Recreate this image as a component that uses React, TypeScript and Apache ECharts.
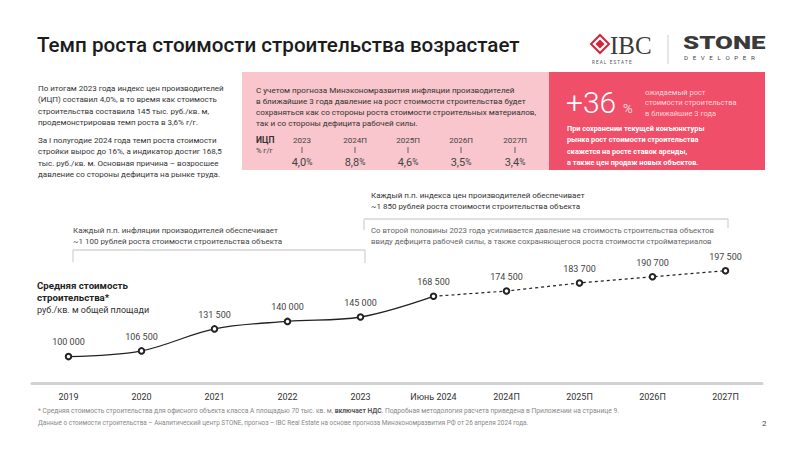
import React, { useEffect, useRef } from "react";
import * as echarts from "echarts";

const categories = ["2019", "2020", "2021", "2022", "2023", "Июнь 2024", "2024П", "2025П", "2026П", "2027П"];
const actualValues = [100000, 106500, 131500, 140000, 145000, 168500];
const forecastValues = [174500, 183700, 190700, 197500];
const ipcYears = ["2023", "2024П", "2025П", "2026П", "2027П"];
const ipcValues = ["4,0", "8,8", "4,6", "3,5", "3,4"];

const leftText1 = [
  "По итогам 2023 года индекс цен производителей",
  "(ИЦП) составил 4,0%, в то время как стоимость",
  "строительства составила 145 тыс. руб./кв. м,",
  "продемонстрировав темп роста в 3,6% г/г.",
];
const leftText2 = [
  "За I полугодие 2024 года темп роста стоимости",
  "стройки вырос до 16%, а индикатор достиг 168,5",
  "тыс. руб./кв. м. Основная причина – возросшее",
  "давление со стороны дефицита на рынке труда.",
];
const pinkText = [
  "С учетом прогноза Минэкономразвития инфляции производителей",
  "в ближайшие 3 года давление на рост стоимости строительства будет",
  "сохраняться как со стороны роста стоимости строительных материалов,",
  "так и со стороны дефицита рабочей силы.",
];
const redSmall = ["ожидаемый рост", "стоимости строительства", "в ближайшие 3 года"];
const redBold = [
  "При сохранении текущей конъюнктуры",
  "рынка рост стоимости строительства",
  "скажется на росте ставок аренды,",
  "а также цен продаж новых объектов.",
];

const FONT = "Roboto, 'Noto Sans', sans-serif";

function fmt(v: number) {
  return String(v).replace(/\B(?=(\d{3})+(?!\d))/g, " ");
}

function txt(x: number, y: number, text: string, size: number, extra: any = {}) {
  return {
    type: "text",
    x,
    y,
    silent: true,
    style: {
      text,
      fontSize: size,
      fontFamily: FONT,
      fontWeight: extra.weight || "normal",
      fill: extra.fill || "#333",
      align: extra.align || "left",
      verticalAlign: "middle",
      lineHeight: extra.lineHeight,
      rich: extra.rich,
    },
    scaleX: extra.scaleX,
    z: 10,
  };
}

function lines(x: number, y0: number, dy: number, arr: string[], size: number, extra: any = {}) {
  return arr.map((s, i) => txt(x, y0 + i * dy, s, size, extra));
}

function ln(x1: number, y1: number, x2: number, y2: number, color = "#d4d4d4", w = 1.3) {
  return {
    type: "line",
    silent: true,
    shape: { x1, y1, x2, y2 },
    style: { stroke: color, lineWidth: w },
    z: 5,
  };
}

export default function App() {
  const ref = useRef<HTMLDivElement>(null);
  useEffect(() => {
    if (!ref.current) return;
    const chart = echarts.init(ref.current, undefined, { renderer: "svg" });

    const forecastData: any[] = categories.map(() => null);
    const lastActual = actualValues[actualValues.length - 1];
    forecastData[actualValues.length - 1] = { value: lastActual, label: { show: false }, symbol: "none" };
    forecastValues.forEach((v, i) => {
      forecastData[actualValues.length + i] = v;
    });

    const ipcCols = [302, 355, 408, 461, 515];

    const graphic: any[] = [
      // Title
      txt(37, 45, "Темп роста стоимости строительства возрастает", 20.6, { weight: 500, fill: "#1c1c1c" }),
      // IBC logo
      {
        type: "polygon",
        silent: true,
        shape: { points: [[600, 35], [609, 44], [600, 53], [591, 44]] },
        style: { fill: "#fff", stroke: "#d3243a", lineWidth: 2 },
      },
      {
        type: "polygon",
        silent: true,
        shape: { points: [[600, 39.5], [604.5, 44], [600, 48.5], [595.5, 44]] },
        style: { fill: "#d3243a" },
      },
      {
        type: "text",
        x: 610,
        y: 45,
        silent: true,
        style: { text: "IBC", fontSize: 25, fontFamily: "'Liberation Serif', 'DejaVu Serif', serif", fill: "#3a3a3a", verticalAlign: "middle" },
      },
      txt(592, 62, "R E A L   E S T A T E", 4.6, { fill: "#555" }),
      ln(668, 35, 668, 64, "#cfcfcf", 1),
      {
        type: "text",
        x: 683,
        y: 43,
        silent: true,
        scaleX: 1.36,
        style: { text: "STONE", fontSize: 19, fontWeight: 900, fontFamily: FONT, fill: "#3a3a3a", verticalAlign: "middle" },
      },
      txt(684, 58, "D   E   V   E   L   O   P   E   R", 6.2, { fill: "#444" }),

      // left text
      ...lines(38, 88, 11.5, leftText1, 8, { fill: "#333" }),
      ...lines(38, 140, 11.5, leftText2, 8, { fill: "#333" }),

      // pink box
      {
        type: "rect",
        silent: true,
        shape: { x: 242, y: 72, width: 307, height: 98 },
        style: { fill: "#f8c6cc" },
        z: 1,
      },
      ...lines(256, 90, 11, pinkText, 8.1, { fill: "#333" }),
      txt(256, 140, "ИЦП", 8.5, { weight: "bold", fill: "#333" }),
      txt(256, 150, "% г/г", 7.5, { fill: "#444" }),
      ...ipcYears.map((y, i) => txt(ipcCols[i], 140, y, 8, { align: "center", fill: "#444" })),
      ...ipcCols.map((x) => ln(x, 147, x, 153, "#555", 0.9)),
      ...ipcValues.map((v, i) =>
        txt(ipcCols[i], 162, `{v|${v}}{p|%}`, 11, {
          align: "center",
          rich: {
            v: { fontSize: 11, fontFamily: FONT, fill: "#444" },
            p: { fontSize: 8.5, fontFamily: FONT, fill: "#444" },
          },
        })
      ),

      // red box
      {
        type: "rect",
        silent: true,
        shape: { x: 549, y: 72, width: 216, height: 98 },
        style: { fill: "#ef4f68" },
        z: 1,
      },
      txt(566, 102, "+36", 30, { weight: 300, fill: "#ffffff" }),
      txt(623, 108, "%", 13, { weight: 300, fill: "#ffffff" }),
      ...lines(645, 92, 10.5, redSmall, 7.5, { fill: "#ffd3d9" }),
      ...lines(567, 128, 11.5, redBold, 7.3, { weight: "bold", fill: "#ffffff" }),

      // annotation 1
      ...lines(73, 230, 11.5, [
        "Каждый п.п. инфляции производителей обеспечивает",
        "~1 100 рублей роста стоимости строительства объекта",
      ], 8, { fill: "#444" }),
      ln(73, 250, 365, 250),
      ln(73, 250, 73, 262),
      ln(365, 250, 365, 263),

      // annotation 2
      ...lines(371, 195, 11.5, [
        "Каждый п.п. индекса цен производителей обеспечивает",
        "~1 850 рублей роста стоимости строительства объекта",
      ], 8, { fill: "#333" }),
      ln(364, 219, 728, 219),
      ln(364, 219, 364, 230),
      ln(728, 219, 728, 228),
      ...lines(371, 230, 11.5, [
        "Со второй половины 2023 года усиливается давление на стоимость строительства объектов",
        "ввиду дефицита рабочей силы, а также сохраняющегося роста стоимости стройматериалов",
      ], 7.8, { fill: "#666" }),

      // y label
      txt(37, 285, "Средняя стоимость", 9.7, { weight: "bold", fill: "#222" }),
      txt(37, 297, "строительства*", 9.7, { weight: "bold", fill: "#222" }),
      txt(37, 310, "руб./кв. м общей площади", 9, { fill: "#333" }),

      // footnote
      txt(
        38,
        411,
        "{a|* Средняя стоимость строительства для офисного объекта класса А площадью 70 тыс. кв. м, }{b|включает НДС}{a|. Подробная методология расчета приведена в Приложении на странице 9.}",
        6.6,
        {
          rich: {
            a: { fontSize: 6.7, fontFamily: FONT, fill: "#888" },
            b: { fontSize: 6.7, fontFamily: FONT, fill: "#555", fontWeight: "bold" },
          },
        }
      ),
      txt(
        38,
        423,
        "Данные о стоимости строительства – Аналитический центр STONE, прогноз – IBC Real Estate на основе прогноза Минэкономразвития РФ от 26 апреля 2024 года.",
        6.4,
        { fill: "#888" }
      ),
      txt(762, 423, "2", 8, { fill: "#444" }),
    ];

    const labelCfg = {
      show: true,
      position: "top",
      distance: 6,
      color: "#444",
      fontSize: 9,
      fontFamily: FONT,
      formatter: (p: any) => fmt(p.value),
    };

    chart.setOption({
      animation: false,
      backgroundColor: "#ffffff",
      grid: { left: 32, right: 38, top: 251, bottom: 67 },
      xAxis: {
        type: "category",
        data: categories,
        boundaryGap: true,
        axisLine: { lineStyle: { color: "#d2d2d2", width: 3 } },
        axisTick: { show: false },
        axisLabel: { color: "#333", fontSize: 9, fontFamily: FONT, margin: 9 },
        splitLine: { show: false },
      },
      yAxis: {
        type: "value",
        min: 70000,
        max: 220000,
        show: false,
        splitLine: { show: false },
      },
      series: [
        {
          type: "line",
          data: actualValues,
          smooth: 0.35,
          symbol: "emptyCircle",
          symbolSize: 5.5,
          showSymbol: true,
          lineStyle: { color: "#222", width: 1.3 },
          itemStyle: { color: "#222", borderWidth: 1.1 },
          label: labelCfg,
          z: 3,
        },
        {
          type: "line",
          data: forecastData,
          symbol: "emptyCircle",
          symbolSize: 5.5,
          showSymbol: true,
          connectNulls: false,
          lineStyle: { color: "#222", width: 1.2, type: [3, 3] },
          itemStyle: { color: "#222", borderWidth: 1.1 },
          label: labelCfg,
          z: 2,
        },
      ],
      graphic,
    });
    return () => chart.dispose();
  }, []);

  return (
    <div
      ref={ref}
      style={{ position: "fixed", left: 0, top: 0, width: 800, height: 450, background: "#fff" }}
    />
  );
}
